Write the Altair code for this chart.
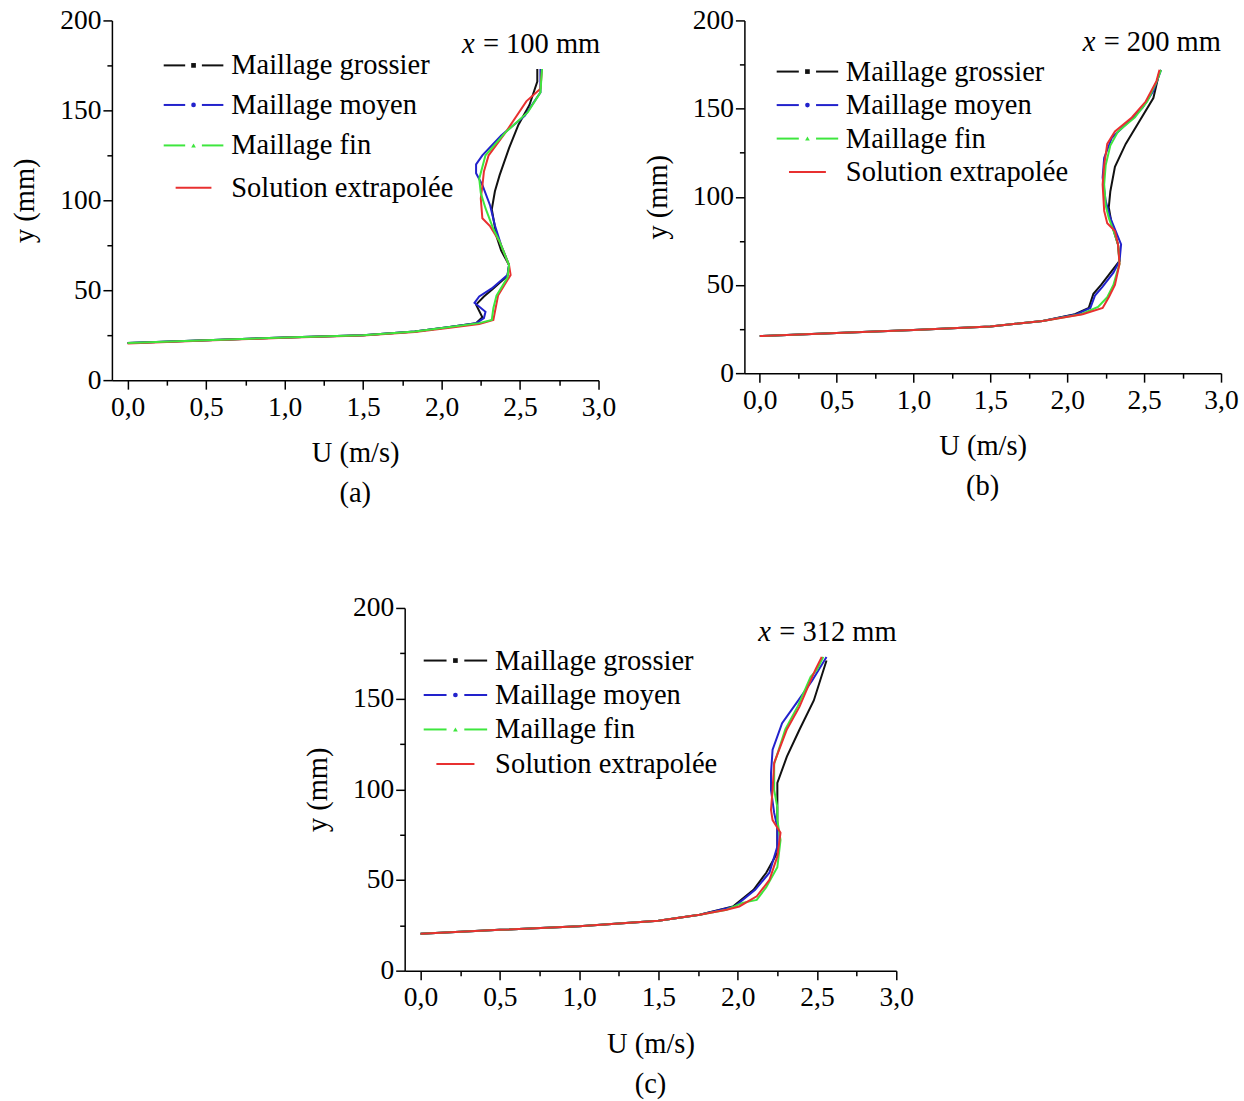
import altair as alt
import pandas as pd

FONT = "Liberation Serif"
NAMES = ["Maillage grossier", "Maillage moyen", "Maillage fin", "Solution extrapolée"]
COLORS = {"Maillage grossier": "#111111", "Maillage moyen": "#2222cc",
          "Maillage fin": "#3ee63e", "Solution extrapolée": "#e83030"}
SHAPES = {"Maillage grossier": "square", "Maillage moyen": "circle",
          "Maillage fin": "triangle-up", "Solution extrapolée": ""}

# ---------------- Panel (a) x = 100 mm ----------------
a_black_U = [0.00, 0.50, 1.00, 1.50, 1.83, 2.04, 2.22, 2.26, 2.22, 2.27, 2.33, 2.42, 2.43, 2.38, 2.35, 2.32, 2.34, 2.37, 2.43, 2.49, 2.56, 2.61, 2.61]
a_black_Y = [20.6, 22.2, 23.7, 25.0, 27.0, 29.4, 31.6, 35.0, 42.0, 46.5, 51.0, 58.0, 64.0, 72.0, 80.0, 95.0, 105.0, 114.0, 129.0, 142.0, 153.0, 166.0, 173.0]
a_blue_U = [0.00, 0.50, 1.00, 1.50, 1.83, 2.04, 2.22, 2.27, 2.28, 2.21, 2.24, 2.32, 2.42, 2.43, 2.38, 2.34, 2.31, 2.26, 2.22, 2.22, 2.26, 2.38, 2.53, 2.63, 2.63]
a_blue_Y = [20.6, 22.2, 23.7, 25.0, 27.0, 29.4, 31.6, 34.5, 38.0, 43.0, 46.5, 51.0, 58.5, 64.0, 75.0, 86.0, 97.0, 108.5, 115.0, 120.0, 125.0, 136.0, 147.0, 160.0, 173.0]
a_green_U = [0.00, 0.50, 1.00, 1.50, 1.83, 2.04, 2.24, 2.32, 2.33, 2.35, 2.42, 2.43, 2.37, 2.33, 2.28, 2.25, 2.24, 2.28, 2.41, 2.55, 2.63, 2.64]
a_green_Y = [20.6, 22.2, 23.7, 25.0, 27.0, 29.4, 31.7, 33.5, 40.0, 47.0, 57.0, 64.0, 77.0, 84.0, 95.6, 104.0, 112.0, 125.0, 138.0, 149.0, 160.0, 173.0]
a_red_U = [0.00, 0.50, 1.00, 1.50, 1.83, 2.04, 2.24, 2.33, 2.34, 2.36, 2.44, 2.43, 2.37, 2.31, 2.26, 2.25, 2.26, 2.27, 2.30, 2.41, 2.54, 2.63, 2.64]
a_red_Y = [20.4, 22.0, 23.5, 24.8, 26.8, 29.0, 31.2, 33.5, 38.0, 47.0, 58.5, 64.0, 77.0, 85.5, 90.0, 101.0, 108.0, 116.0, 125.0, 138.0, 155.0, 162.0, 173.0]

# ---------------- Panel (b) x = 200 mm ----------------
b_black_U = [0.00, 0.50, 1.00, 1.50, 1.84, 2.05, 2.14, 2.17, 2.22, 2.29, 2.34, 2.33, 2.29, 2.27, 2.28, 2.31, 2.38, 2.47, 2.56, 2.60]
b_black_Y = [21.0, 22.8, 24.5, 26.5, 29.6, 33.4, 37.0, 45.0, 50.0, 58.0, 63.6, 73.0, 84.0, 94.0, 103.0, 117.0, 130.0, 143.0, 156.0, 171.0]
b_blue_U = [0.00, 0.50, 1.00, 1.50, 1.84, 2.06, 2.15, 2.18, 2.23, 2.30, 2.34, 2.35, 2.28, 2.25, 2.23, 2.24, 2.29, 2.38, 2.49, 2.56, 2.61]
b_blue_Y = [21.0, 22.8, 24.5, 26.5, 29.6, 33.4, 37.0, 44.0, 49.0, 57.0, 63.6, 73.0, 88.0, 97.6, 111.0, 122.0, 133.5, 141.0, 150.6, 160.0, 172.0]
b_green_U = [0.00, 0.50, 1.00, 1.50, 1.84, 2.09, 2.20, 2.26, 2.30, 2.34, 2.33, 2.30, 2.27, 2.25, 2.24, 2.25, 2.28, 2.33, 2.44, 2.52, 2.58, 2.61]
b_green_Y = [21.0, 22.8, 24.5, 26.5, 29.6, 33.4, 37.5, 43.0, 50.0, 62.0, 73.0, 81.0, 88.0, 95.0, 107.0, 118.0, 129.0, 137.0, 145.0, 154.0, 165.0, 172.0]
b_red_U = [0.00, 0.50, 1.00, 1.50, 1.84, 2.10, 2.23, 2.27, 2.31, 2.34, 2.33, 2.31, 2.26, 2.24, 2.23, 2.24, 2.26, 2.31, 2.42, 2.51, 2.58, 2.60]
b_red_Y = [21.0, 22.8, 24.5, 26.5, 29.6, 33.4, 37.0, 43.0, 50.0, 62.0, 73.0, 80.6, 85.0, 92.0, 107.0, 118.0, 130.0, 137.0, 145.0, 154.0, 165.6, 172.0]

# ---------------- Panel (c) x = 312 mm ----------------
c_black_U = [0.00, 0.50, 1.00, 1.50, 1.76, 1.97, 2.10, 2.18, 2.25, 2.25, 2.25, 2.25, 2.31, 2.39, 2.48, 2.56]
c_black_Y = [20.4, 22.5, 24.5, 27.5, 30.8, 35.4, 44.6, 54.0, 65.0, 76.0, 90.5, 103.5, 118.0, 133.0, 149.0, 171.0]
c_blue_U = [0.00, 0.50, 1.00, 1.50, 1.76, 1.98, 2.11, 2.20, 2.25, 2.25, 2.23, 2.21, 2.21, 2.22, 2.28, 2.37, 2.47, 2.56]
c_blue_Y = [20.4, 22.5, 24.5, 27.5, 30.8, 35.4, 44.6, 54.0, 68.5, 79.0, 87.0, 99.7, 109.0, 121.8, 136.5, 147.5, 160.0, 173.0]
c_green_U = [0.00, 0.50, 1.00, 1.50, 1.76, 1.93, 2.03, 2.12, 2.18, 2.25, 2.27, 2.25, 2.25, 2.23, 2.23, 2.30, 2.38, 2.46, 2.50, 2.54]
c_green_Y = [20.4, 22.5, 24.5, 27.5, 30.8, 33.6, 37.4, 39.0, 46.0, 57.0, 72.0, 83.0, 90.0, 99.7, 114.0, 133.0, 146.0, 162.0, 166.0, 173.0]
c_red_U = [0.00, 0.50, 1.00, 1.50, 1.76, 1.93, 2.01, 2.12, 2.20, 2.25, 2.27, 2.22, 2.21, 2.22, 2.23, 2.31, 2.39, 2.47, 2.49, 2.53]
c_red_Y = [20.4, 22.5, 24.5, 27.5, 30.8, 33.6, 35.4, 41.0, 50.0, 63.0, 76.0, 83.0, 88.7, 99.7, 114.6, 133.0, 145.6, 162.0, 166.0, 173.0]

X_TICKS = [i * 0.25 for i in range(13)]
Y_TICKS = [i * 25 for i in range(9)]

TXT = 28.5
TICK_FS = 27.5


def axis_common():
    return dict(grid=False, labelFlush=False, labelOverlap=False,
                labelFont=FONT, titleFont=FONT, labelFontSize=TICK_FS, titleFontSize=TXT,
                titleFontWeight="normal", labelColor="black", titleColor="black",
                domainColor="black", tickColor="black", domainWidth=1.5, tickWidth=1.5)


def enc_x():
    return alt.X("U:Q", scale=alt.Scale(domain=[-0.1, 3.0], nice=False, zero=False),
                 axis=alt.Axis(title="U (m/s)", values=X_TICKS,
                               labelExpr="datum.value % 0.5 == 0 ? replace(format(datum.value, '.1f'), '.', ',') : ''",
                               tickSize={"condition": {"test": "datum.value % 0.5 != 0", "value": 5}, "value": 9},
                               labelPadding=4, titlePadding=18, **axis_common()))


def enc_y():
    return alt.Y("Y:Q", scale=alt.Scale(domain=[0, 200], nice=False),
                 axis=alt.Axis(title="y (mm)", values=Y_TICKS,
                               labelExpr="datum.value % 50 == 0 ? format(datum.value, 'd') : ''",
                               tickSize={"condition": {"test": "datum.value % 50 != 0", "value": 5}, "value": 9},
                               labelPadding=2, titlePadding=20, **axis_common()))


def series_layer(name, U, Y):
    df = pd.DataFrame({"U": U, "Y": Y, "idx": list(range(len(U)))})
    return alt.Chart(df).mark_line(strokeWidth=2, color=COLORS[name]).encode(
        x=enc_x(), y=enc_y(), order="idx:Q")


def panel(series, draw_order, leg, ann, label, w, h):
    layers = [series_layer(n, *series[n]) for n in draw_order]
    x0, x1, xt, rows = leg
    segs, dots, texts = [], [], []
    for name, yv in zip(NAMES, rows):
        if name == "Solution extrapolée":
            segs.append({"U": x0 + 0.2 * (x1 - x0), "U2": x0 + 0.8 * (x1 - x0), "Y": yv, "c": COLORS[name]})
        else:
            segs.append({"U": x0, "U2": x0 + 0.36 * (x1 - x0), "Y": yv, "c": COLORS[name]})
            segs.append({"U": x0 + 0.64 * (x1 - x0), "U2": x1, "Y": yv, "c": COLORS[name]})
            dots.append({"U": (x0 + x1) / 2, "Y": yv, "c": COLORS[name], "s": SHAPES[name]})
        texts.append({"U": xt, "Y": yv, "t": name})
    layers.append(alt.Chart(pd.DataFrame(segs)).mark_rule(strokeWidth=2).encode(
        x=enc_x(), x2="U2:Q", y=enc_y(), color=alt.Color("c:N", scale=None)))
    layers.append(alt.Chart(pd.DataFrame(dots)).mark_point(filled=True, size=22, opacity=1).encode(
        x=enc_x(), y=enc_y(), color=alt.Color("c:N", scale=None), shape=alt.Shape("s:N", scale=None)))
    layers.append(alt.Chart(pd.DataFrame(texts)).mark_text(
        align="left", baseline="middle", font=FONT, fontSize=TXT, color="black").encode(
        x=enc_x(), y=enc_y(), text="t:N"))
    au, ay, atxt = ann
    adf = pd.DataFrame({"U": [au], "Y": [ay]})
    layers.append(alt.Chart(adf).mark_text(align="left", baseline="middle", font=FONT, fontSize=TXT,
                                           fontStyle="italic", color="black", text="x").encode(x=enc_x(), y=enc_y()))
    layers.append(alt.Chart(adf).mark_text(align="left", baseline="middle", font=FONT, fontSize=TXT,
                                           color="black", dx=21, text=atxt).encode(x=enc_x(), y=enc_y()))
    return alt.layer(*layers).properties(
        width=w, height=h,
        title=alt.TitleParams(label, orient="bottom", font=FONT, fontSize=TXT, fontWeight="normal",
                              color="black", offset=12, anchor="middle"))


pa = panel({"Maillage grossier": (a_black_U, a_black_Y), "Maillage moyen": (a_blue_U, a_blue_Y),
            "Maillage fin": (a_green_U, a_green_Y), "Solution extrapolée": (a_red_U, a_red_Y)},
           ["Maillage grossier", "Maillage moyen", "Solution extrapolée", "Maillage fin"],
           (0.23, 0.61, 0.66, [175, 153, 130.5, 107]), (2.13, 187, "= 100 mm"), "(a)", 487, 360)
pb = panel({"Maillage grossier": (b_black_U, b_black_Y), "Maillage moyen": (b_blue_U, b_blue_Y),
            "Maillage fin": (b_green_U, b_green_Y), "Solution extrapolée": (b_red_U, b_red_Y)},
           ["Maillage grossier", "Maillage moyen", "Maillage fin", "Solution extrapolée"],
           (0.11, 0.51, 0.56, [171, 152, 133, 114]), (2.10, 187.5, "= 200 mm"), "(b)", 477, 353)
pc = panel({"Maillage grossier": (c_black_U, c_black_Y), "Maillage moyen": (c_blue_U, c_blue_Y),
            "Maillage fin": (c_green_U, c_green_Y), "Solution extrapolée": (c_red_U, c_red_Y)},
           ["Maillage grossier", "Maillage moyen", "Maillage fin", "Solution extrapolée"],
           (0.02, 0.42, 0.47, [171, 152, 133, 114]), (2.13, 187, "= 312 mm"), "(c)", 492, 363)

spacer = alt.Chart(pd.DataFrame({"z": [0]})).mark_point(opacity=0).properties(width=191, height=10)

top = alt.hconcat(pa, pb, spacing=26)
bottom = alt.hconcat(spacer, pc, spacing=0)
chart = alt.vconcat(top, bottom, spacing=86).properties(
    padding={"left": 10, "top": 6, "right": 5, "bottom": 5}
).configure(background="white").configure_view(stroke=None)

chart.save("out.html", embed_options={"renderer": "svg", "actions": False})
